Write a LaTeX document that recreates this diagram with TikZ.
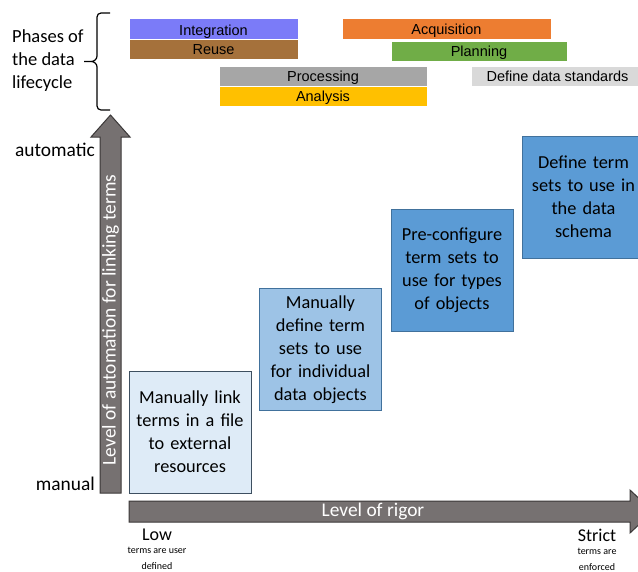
\documentclass[tikz,border=0pt]{standalone}
\usepackage{fontspec}
\setmainfont{Carlito}
\newfontfamily\barfont{Liberation Sans}
\usepackage{xcolor}
\usetikzlibrary{positioning}

\definecolor{integcol}{HTML}{7B7BF8}
\definecolor{reusecol}{HTML}{A5713B}
\definecolor{proccol}{HTML}{A6A6A6}
\definecolor{analcol}{HTML}{FFC000}
\definecolor{acqcol}{HTML}{ED7D31}
\definecolor{plancol}{HTML}{70AD47}
\definecolor{stdcol}{HTML}{D9D9D9}
\definecolor{lowblue}{HTML}{DEEBF7}
\definecolor{midblue}{HTML}{9DC3E6}
\definecolor{highblue}{HTML}{5B9BD5}
\definecolor{boxedge}{HTML}{41719C}
\definecolor{arrowgray}{HTML}{767171}
\definecolor{arrowedge}{HTML}{3B3838}

\begin{document}
\begin{tikzpicture}[x=1pt, y=-1pt,
  phase/.style={minimum height=20.5pt, inner sep=0pt, text height=12pt, text depth=0.5pt, draw=white, line width=0.4pt, font=\barfont\fontsize{14.5}{16}\selectfont},
  rigorbox/.style={draw=boxedge, line width=1pt, minimum width=122pt, minimum height=122pt, inner sep=0pt, text width=120pt, align=center, font=\fontsize{18.3}{23}\selectfont},
  axis/.style={fill=arrowgray, draw=arrowedge, line width=1pt},
  lab/.style={font=\fontsize{18.5}{23}\selectfont},
  axislab/.style={font=\fontsize{19.4}{23}\selectfont},
  endlab/.style={font=\fontsize{18}{20}\selectfont},
  note/.style={font=\fontsize{10}{16}\selectfont, align=center, inner sep=0pt}]
  \useasboundingbox (0,0) rectangle (638,571);

  % lifecycle phases
  \node[phase, fill=integcol, minimum width=169pt, text height=14pt] (integration) at (213.5,28.5) {Integration};
  \node[phase, fill=reusecol, minimum width=169pt] (reuse) at (213.5,49) {Reuse};
  \node[phase, fill=proccol, minimum width=208pt] (processing) at (323,76) {Processing};
  \node[phase, fill=analcol, minimum width=208pt] (analysis) at (323,96) {Analysis};
  \node[phase, fill=acqcol, minimum width=209pt] (acquisition) at (446.5,28.5) {Acquisition};
  \node[phase, fill=plancol, minimum width=176pt] (planning) at (479,51) {Planning};
  \node[phase, fill=stdcol, minimum width=173pt] (standards) at (557.5,76) {Define data standards};

  \node[lab, anchor=west, align=left, inner sep=0pt] (phases) at (12,61) {Phases of\\the data\\lifecycle};
  \draw[line width=1.2pt] (110,13) -- (101,13) to[out=180,in=90] (97,17) -- (97,56)
    to[out=-90,in=0] (91,61.5) -- (84,61.5) -- (91,61.5) to[out=0,in=90] (97,67)
    -- (97,106) to[out=-90,in=180] (101,110) -- (110,110);

  % axes
  \draw[axis] (100,493) -- (100,137) -- (91,137) -- (110.5,115) -- (130,137) -- (121,137) -- (121,493) -- cycle;
  \node[axislab, text=white, rotate=90] (automation) at (110.5,320) {Level of automation for linking terms};
  \node[axislab, anchor=east, inner sep=0pt] (automatic) at (95,150) {automatic};
  \node[axislab, anchor=east, inner sep=0pt] (manual) at (95,484) {manual};

  \draw[axis] (129,501) -- (630,501) -- (630,490) -- (653,511.5) -- (630,533) -- (630,522) -- (129,522) -- cycle;
  \node[axislab, text=white] (rigor) at (373,511.5) {Level of rigor};
  \node[endlab] (low) at (157,535) {Low};
  \node[note, below=3pt of low] (lownote) {terms are user\\defined};
  \node[endlab] (strict) at (597,535) {Strict};
  \node[note, below=3pt of strict] (strictnote) {terms are\\enforced};

  % steps of rigor
  \node[rigorbox, fill=lowblue, draw=arrowedge!60!boxedge] (linkbox) at (190,432) {Manually link\\terms in a file\\to external\\resources};
  \node[rigorbox, fill=midblue] (definebox) at (320.5,349.5) {Manually\\define term\\sets to use\\for individual\\data objects};
  \node[rigorbox, fill=highblue] (configbox) at (452,270.5) {Pre-configure\\term sets to\\use for types\\of objects};
  \node[rigorbox, fill=highblue] (schemabox) at (583.5,197) {Define term\\sets to use in\\the data\\schema};
\end{tikzpicture}
\end{document}
